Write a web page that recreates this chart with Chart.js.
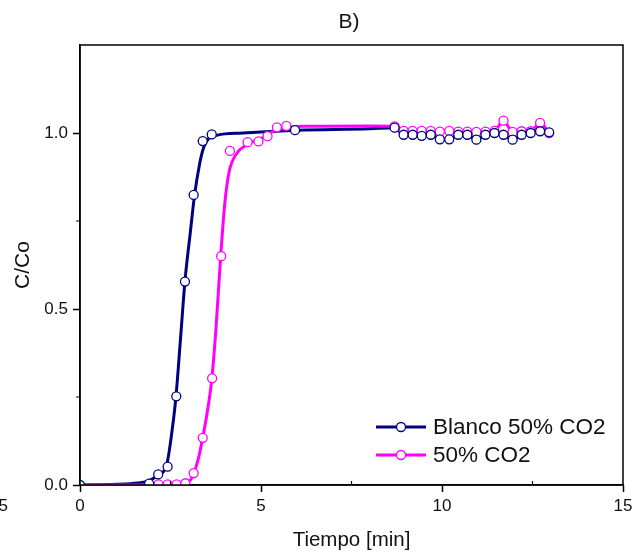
<!DOCTYPE html>
<html>
<head>
<meta charset="utf-8">
<script src="https://cdn.jsdelivr.net/npm/chart.js@4.4.1/dist/chart.umd.min.js"></script>
<style>
    html, body { margin: 0; padding: 0; background: #fff; }
    #wrap { width: 641px; height: 559px; position: relative; }
</style>
</head>
<body>
<div id="wrap"><canvas id="breakChart" width="641" height="559"></canvas></div>
<script>
// Puntos medidos - Blanco 50% CO2
const blancoX = [0, 1.91, 2.16, 2.42, 2.66, 2.90, 3.14, 3.39, 3.64, 5.94,
    8.69, 8.94, 9.19, 9.44, 9.69, 9.94, 10.20, 10.45, 10.70, 10.95,
    11.20, 11.45, 11.70, 11.95, 12.20, 12.45, 12.71, 12.96];
const blancoY = [0, 0.004, 0.030, 0.052, 0.252, 0.578, 0.824, 0.977, 0.996, 1.008,
    1.015, 0.995, 0.995, 0.992, 0.995, 0.982, 0.982, 0.995, 0.995, 0.981,
    0.995, 1.000, 0.995, 0.981, 0.995, 1.000, 1.005, 1.002];

// Puntos medidos - 50% CO2
const co2X = [2.17, 2.42, 2.67, 2.91, 3.14, 3.39, 3.65, 3.90, 4.14, 4.63,
    4.93, 5.18, 5.44, 5.70,
    8.69, 8.94, 9.19, 9.44, 9.69, 9.94, 10.20, 10.45, 10.70, 10.95,
    11.20, 11.45, 11.70, 11.95, 12.20, 12.45, 12.71, 12.96];
const co2Y = [0.002, 0.002, 0.002, 0.005, 0.034, 0.134, 0.303, 0.650, 0.949, 0.974,
    0.976, 0.991, 1.016, 1.020,
    1.019, 1.006, 1.006, 1.006, 1.006, 1.004, 1.006, 1.004, 1.004, 1.003,
    1.004, 1.006, 1.035, 1.003, 1.005, 1.005, 1.029, 1.000];

// Curvas ajustadas
const blancoFitX = [0, 1.0, 1.6, 1.9, 2.15, 2.4, 2.55, 2.65, 2.78, 2.9, 3.05, 3.16, 3.3, 3.42, 3.55, 3.8, 4.5, 6.0, 8.0];
const blancoFitY = [0, 0.002, 0.006, 0.012, 0.028, 0.06, 0.16, 0.25, 0.42, 0.58, 0.72, 0.82, 0.91, 0.96, 0.984, 0.994, 1.0, 1.008, 1.012];
const co2FitX = [0, 1.5, 2.5, 2.9, 3.05, 3.15, 3.27, 3.39, 3.52, 3.64, 3.76, 3.88, 4.0, 4.12, 4.33, 4.6, 5.05, 5.4, 6.2, 8.0];
const co2FitY = [0, 0, 0.002, 0.006, 0.014, 0.035, 0.075, 0.134, 0.21, 0.30, 0.45, 0.64, 0.80, 0.89, 0.942, 0.966, 0.987, 1.008, 1.019, 1.02];

const xTicks = [0, 5, 10, 15];
const xMinor = [2.5, 7.5, 12.5];
const yTicks = [0, 0.5, 1.0];
const yMinor = [0.25, 0.75];
const seriesNames = ['Blanco 50% CO2', '50% CO2'];

const NAVY = '#000080';
const MAGENTA = '#ff00ff';

function pts(xs, ys) {
    return xs.map(function(x, i) { return { x: x, y: ys[i] }; });
}
// curva ajustada + tramo medido despues de 8.6 min unidos por lineas
function lineFrom(fx, fy, mx, my) {
    const out = pts(fx, fy);
    mx.forEach(function(x, i) { if (x > 8.5) out.push({ x: x, y: my[i] }); });
    return out;
}

// marco, ticks menores, leyenda y titulo
const framePlugin = {
    id: 'frame',
    afterDraw: function(chart) {
        const ctx = chart.ctx;
        const a = chart.chartArea;
        const xs = chart.scales.x, ys = chart.scales.y;
        ctx.save();
        ctx.strokeStyle = '#000';
        ctx.lineWidth = 1.5;
        ctx.strokeRect(a.left, a.top, a.right - a.left, a.bottom - a.top);

        ctx.lineWidth = 1.2;
        ctx.beginPath();
        xMinor.forEach(function(v) {
            const px = xs.getPixelForValue(v);
            ctx.moveTo(px, a.bottom);
            ctx.lineTo(px, a.bottom - 4);
        });
        yMinor.forEach(function(v) {
            const py = ys.getPixelForValue(v);
            ctx.moveTo(a.left, py);
            ctx.lineTo(a.left - 4, py);
        });
        ctx.stroke();

        // leyenda
        const colors = [NAVY, MAGENTA];
        ctx.font = '22.5px "Liberation Sans", Arial, sans-serif';
        ctx.textBaseline = 'middle';
        ctx.textAlign = 'left';
        seriesNames.forEach(function(name, i) {
            const y = 427 + i * 28;
            ctx.strokeStyle = colors[i];
            ctx.lineWidth = 3;
            ctx.beginPath();
            ctx.moveTo(376, y);
            ctx.lineTo(426, y);
            ctx.stroke();
            ctx.beginPath();
            ctx.arc(401, y, 4.5, 0, Math.PI * 2);
            ctx.fillStyle = '#fff';
            ctx.fill();
            ctx.lineWidth = 1.3;
            ctx.stroke();
            ctx.fillStyle = '#111';
            ctx.fillText(name, 433, y + 1);
        });

        ctx.font = '21px "Liberation Sans", Arial, sans-serif';
        ctx.textAlign = 'center';
        ctx.fillStyle = '#111';
        ctx.fillText('B)', 349, 22);

        // resto de etiqueta del panel vecino
        ctx.font = '17px "Liberation Sans", Arial, sans-serif';
        ctx.textAlign = 'right';
        ctx.fillText('5', 8, 506);
        ctx.restore();
    }
};

document.addEventListener('DOMContentLoaded', function() {
    Chart.defaults.font.family = "'Liberation Sans', Arial, sans-serif";
    Chart.defaults.color = '#111';

    const ctx = document.getElementById('breakChart');
    new Chart(ctx, {
        type: 'scatter',
        data: {
            datasets: [{
                type: 'scatter',
                label: seriesNames[0],
                data: pts(blancoX, blancoY),
                borderColor: NAVY,
                backgroundColor: '#fff',
                pointRadius: 4.5,
                borderWidth: 1.3,
                order: 0
            }, {
                type: 'scatter',
                label: seriesNames[1],
                data: pts(co2X, co2Y),
                borderColor: MAGENTA,
                backgroundColor: '#fff',
                pointRadius: 4.5,
                borderWidth: 1.3,
                order: 1
            }, {
                type: 'line',
                label: 'ajuste 50% CO2',
                data: lineFrom(co2FitX, co2FitY, co2X, co2Y),
                borderColor: MAGENTA,
                borderWidth: 3,
                pointRadius: 0,
                cubicInterpolationMode: 'monotone',
                fill: false,
                order: 2
            }, {
                type: 'line',
                label: 'ajuste Blanco',
                data: lineFrom(blancoFitX, blancoFitY, blancoX, blancoY),
                borderColor: NAVY,
                borderWidth: 3,
                pointRadius: 0,
                cubicInterpolationMode: 'monotone',
                fill: false,
                order: 3
            }]
        },
        options: {
            responsive: false,
            animation: false,
            layout: {
                padding: { top: 45, right: 18, left: 0, bottom: 0 }
            },
            plugins: {
                legend: { display: false },
                tooltip: { enabled: false },
                title: { display: false }
            },
            scales: {
                x: {
                    type: 'linear',
                    min: 0,
                    max: 15,
                    afterFit: function(s) { s.height = 74; },
                    afterBuildTicks: function(s) {
                        s.ticks = xTicks.map(function(v) { return { value: v }; });
                    },
                    ticks: {
                        font: { size: 17 },
                        color: '#111',
                        padding: 4,
                        maxRotation: 0
                    },
                    grid: {
                        drawOnChartArea: false,
                        drawTicks: true,
                        tickLength: 7,
                        color: '#000',
                        tickWidth: 1.5
                    },
                    border: { display: true, color: '#000', width: 1.5 },
                    title: {
                        display: true,
                        text: 'Tiempo [min]',
                        font: { size: 20.5 },
                        color: '#111',
                        padding: { top: 0, bottom: 6 }
                    }
                },
                y: {
                    type: 'linear',
                    min: 0,
                    max: 1.25,
                    afterFit: function(s) { s.width = 80; },
                    afterBuildTicks: function(s) {
                        s.ticks = yTicks.map(function(v) { return { value: v }; });
                    },
                    ticks: {
                        font: { size: 17 },
                        color: '#111',
                        padding: 5,
                        callback: function(value) { return value.toFixed(1); }
                    },
                    grid: {
                        drawOnChartArea: false,
                        drawTicks: true,
                        tickLength: 7,
                        color: '#000',
                        tickWidth: 1.5
                    },
                    border: { display: true, color: '#000', width: 1.5 },
                    title: {
                        display: true,
                        text: 'C/Co',
                        font: { size: 21 },
                        color: '#111',
                        padding: { top: 11, bottom: 0 }
                    }
                }
            }
        },
        plugins: [framePlugin]
    });
});
</script>
</body>
</html>
